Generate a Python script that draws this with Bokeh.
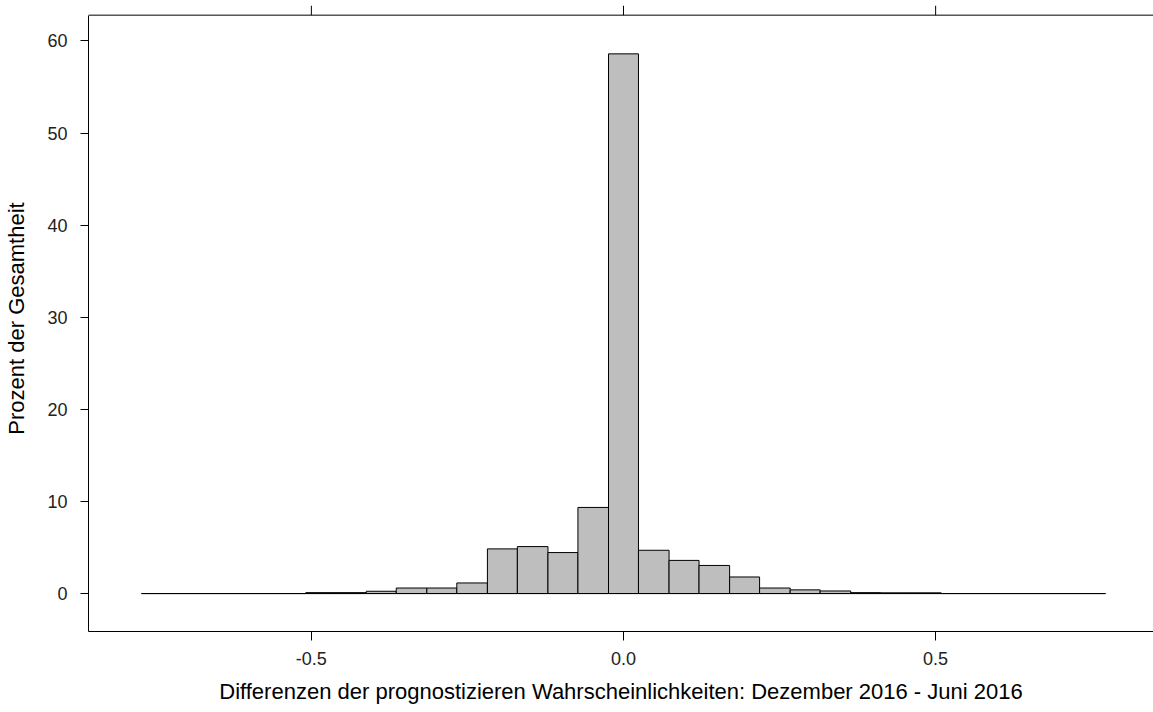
from bokeh.plotting import figure
from bokeh.models import Range1d, FixedTicker, PrintfTickFormatter, Span
from bokeh.embed import file_html
from bokeh.resources import INLINE

# Histogram data (percent of total per bin)
breaks = [-0.772, -0.509, -0.461, -0.412, -0.364, -0.315, -0.267, -0.218, -0.170,
          -0.121, -0.073, -0.024, 0.024, 0.073, 0.121, 0.170, 0.218, 0.267, 0.315,
          0.364, 0.412, 0.461, 0.509, 0.772]
percent = [0.0, 0.1, 0.1, 0.25, 0.6, 0.6, 1.15, 4.85, 5.1, 4.45, 9.35, 58.6,
           4.7, 3.6, 3.05, 1.8, 0.6, 0.4, 0.28, 0.1, 0.08, 0.08, 0.0]
x_ticks = [-0.5, 0.0, 0.5]
y_ticks = [0, 10, 20, 30, 40, 50, 60]
x_title = "Differenzen der prognostizieren Wahrscheinlichkeiten: Dezember 2016 - Juni 2016"
y_title = "Prozent der Gesamtheit"

# panel limits (lattice style padding)
x_lim = (-0.857, 0.849)
y_lim = (-4.12, 62.8)
top_tick_len = 1.05   # length of the outward top ticks, in y units

FONT = "Liberation Sans"

p = figure(width=1153, height=712, output_backend="svg", toolbar_location=None,
           x_range=Range1d(*x_lim), y_range=Range1d(y_lim[0], y_lim[1] + top_tick_len),
           min_border_left=88, min_border_right=0, min_border_top=5,
           min_border_bottom=81)
p.outline_line_color = None
p.xgrid.visible = False
p.ygrid.visible = False
p.background_fill_color = "white"
p.border_fill_color = "white"

p.quad(left=breaks[:-1], right=breaks[1:], top=percent, bottom=0,
       fill_color="#bebebe", line_color="black", line_width=1)
p.segment(x0=[breaks[0]], y0=[0], x1=[breaks[-1]], y1=[0], line_color="black", line_width=1)

# top border of the panel and its outward ticks
p.add_layout(Span(location=y_lim[1], dimension="width", line_color="black", line_width=1))
p.segment(x0=x_ticks, x1=x_ticks, y0=[y_lim[1]] * len(x_ticks),
          y1=[y_lim[1] + top_tick_len] * len(x_ticks), line_color="black", line_width=1)

xa = p.xaxis[0]
xa.ticker = FixedTicker(ticks=x_ticks)
xa.formatter = PrintfTickFormatter(format="%.1f")
xa.axis_label = x_title
ya = p.yaxis[0]
ya.ticker = FixedTicker(ticks=y_ticks)
ya.axis_label = y_title
ya.bounds = y_lim

for ax in (xa, ya):
    ax.axis_line_color = "black"
    ax.axis_line_width = 1
    ax.major_tick_line_color = "black"
    ax.major_tick_in = 0
    ax.minor_tick_line_color = None
    ax.major_label_text_font = FONT
    ax.major_label_text_font_size = "18px"
    ax.major_label_text_color = "#222222"
    ax.axis_label_text_font = FONT
    ax.axis_label_text_font_size = "22px"
    ax.axis_label_text_font_style = "normal"
    ax.axis_label_text_color = "black"

xa.major_tick_out = 9
xa.major_label_standoff = 11
xa.axis_label_standoff = 11
ya.major_tick_out = 8
ya.major_label_standoff = 13
ya.axis_label_standoff = 15

open("out.html", "w").write(file_html(p, INLINE))
